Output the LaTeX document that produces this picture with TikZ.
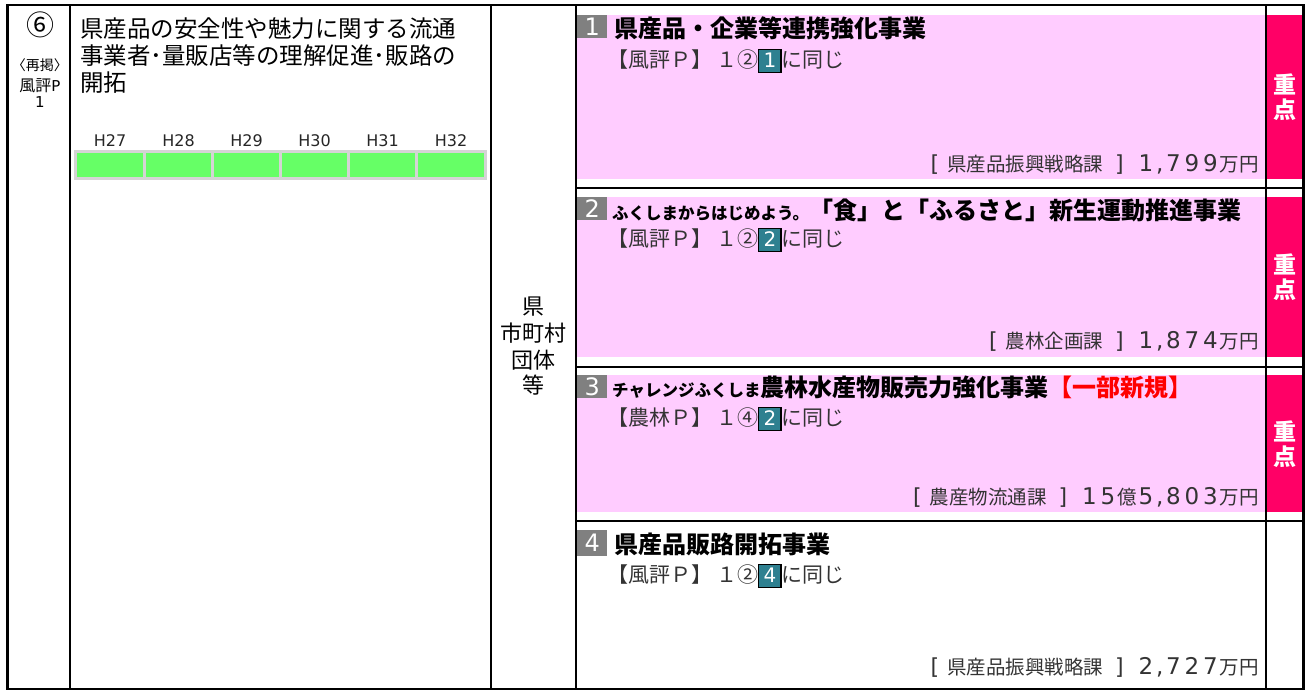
\documentclass[tikz,border=0pt]{standalone}
\usepackage{fontspec}
\setmainfont{Noto Sans CJK JP}
\newfontfamily\lat{DejaVu Sans}
\definecolor{pinkc}{HTML}{FFCCFF}
\definecolor{redc}{HTML}{FF0066}
\definecolor{grayc}{HTML}{808080}
\definecolor{tealc}{HTML}{2E8090}
\definecolor{greenc}{HTML}{66FF66}
\definecolor{barbg}{HTML}{D4D4D4}
\definecolor{subc}{HTML}{333333}
\definecolor{newred}{HTML}{FF0000}
\newcommand\refnum[1]{{\setlength\fboxsep{0pt}\setlength\fboxrule{1.2pt}\fcolorbox{black}{tealc}{\makebox[21pt]{\rule[-4pt]{0pt}{21.5pt}\color{white}\lat\fontsize{20}{20}\selectfont #1}}}}
\newcommand\smallpart[1]{{\fontsize{16.5}{16.5}\selectfont #1}}
\newcommand\D[1]{\makebox[18.5pt]{\lat\fontsize{23}{23}\selectfont #1}}
\newcommand\Cm{\makebox[9pt]{\lat\fontsize{23}{23}\selectfont ,}}
\newcommand\Lb{{\lat\fontsize{22}{22}\selectfont [}\hspace{8pt}}
\newcommand\Rb{\hspace{12pt}{\lat\fontsize{22}{22}\selectfont ]}\hspace{13pt}}
\begin{document}
\begin{tikzpicture}[x=1pt,y=-1pt,
  grid/.style={line width=1.3pt},
  outer/.style={line width=3pt},
  numbox/.style={fill=grayc, text=white, font=\lat\fontsize{24}{24}\selectfont, minimum width=30pt, minimum height=23pt, inner sep=0pt, anchor=north west},
  ttl/.style={anchor=west, inner sep=0pt, font=\fontsize{24}{24}\selectfont\bfseries},
  subl/.style={anchor=west, inner sep=0pt, text=subc, font=\fontsize{21}{21}\selectfont},
  botl/.style={anchor=east, inner sep=0pt, text=subc, font=\fontsize{19.5}{19.5}\selectfont},
  jud/.style={text=white, font=\fontsize{23}{23}\selectfont\bfseries, inner sep=0pt},
  hlab/.style={font=\lat\fontsize{16}{16}\selectfont, inner sep=0pt, text=black!85},
  ltitle/.style={anchor=base west, inner sep=0pt, font=\fontsize{23.5}{23.5}\selectfont},
  midt/.style={inner sep=0pt, font=\fontsize{22}{22}\selectfont},
  cell/.style={fill=greenc}
]
\useasboundingbox (0,0) rectangle (1307,691);
% fills
\fill[pinkc] (577,15) rectangle (1265.3,179);
\fill[pinkc] (577,197) rectangle (1265.3,357);
\fill[pinkc] (577,375) rectangle (1265.3,512);
\fill[redc] (1266.7,15) rectangle (1302,179);
\fill[redc] (1266.7,197) rectangle (1302,357);
\fill[redc] (1266.7,375) rectangle (1302,512);
% year bar
\fill[barbg] (74,150) rectangle (487,180);
\foreach \a/\b in {77/143,146/211,214/279,282/347,350/415,418/484}{
  \fill[cell] (\a,153) rectangle (\b,177);
}
% grid lines
\draw[grid] (7,5) -- (1305,5);
\draw[grid] (7,689) -- (1305,689);
\draw[outer] (7.5,4.4) -- (7.5,689.6);
\draw[outer] (1303.5,4.4) -- (1303.5,689.6);
\foreach \x in {70,491,576,1266}{
  \draw[grid] (\x,5) -- (\x,689);
}
\foreach \y in {188,367,521}{
  \draw[grid] (576,\y) -- (1303,\y);
}
% left column
\node[font=\fontsize{28}{28}\selectfont, inner sep=0pt] (c6) at (40,25) {⑥};
\node[font=\fontsize{14}{14}\selectfont, inner sep=0pt] (rk) at (40,65) {〈再掲〉};
\node[font=\fontsize{16}{16}\selectfont, inner sep=0pt] (fp) at (40,86) {風評{\lat\fontsize{15}{15}\selectfont P}};
\node[font=\lat\fontsize{15}{15}\selectfont, inner sep=0pt] (fn) at (40,102) {1};
% title
\node[ltitle] (L1) at (80,37) {県産品の安全性や魅力に関する流通};
\node[ltitle] (L2) at (80,64) {事業者･量販店等の理解促進･販路の};
\node[ltitle] (L3) at (80,91) {開拓};
% year labels
\node[hlab] (h27) at (110,141) {H27};
\node[hlab] (h28) at (178.5,141) {H28};
\node[hlab] (h29) at (246.5,141) {H29};
\node[hlab] (h30) at (314.5,141) {H30};
\node[hlab] (h31) at (382.5,141) {H31};
\node[hlab] (h32) at (451,141) {H32};
% middle column
\node[midt] (m1) at (533,307) {県};
\node[midt] (m2) at (533,333) {市町村};
\node[midt] (m3) at (533,360) {団体};
\node[midt] (m4) at (533,385) {等};
% section 1
\node[numbox] (n1) at (577,15) {1};
\node[ttl] (t1) at (614,28) {県産品・企業等連携強化事業};
\node[subl] (s1) at (607,61) {【風評Ｐ】\hspace{4pt}１②\refnum{1}に同じ};
\node[botl] (b1) at (1259,164) {\Lb 県産品振興戦略課\Rb\D1\Cm\D7\D9\D9万円};
\node[jud] (j1a) at (1285,84) {重};
\node[jud] (j1b) at (1285,110) {点};
% section 2
\node[numbox] (n2) at (577,197) {2};
\node[ttl] (t2) at (612,210) {\smallpart{ふくしまからはじめよう。}「食」と「ふるさと」新生運動推進事業};
\node[subl] (s2) at (607,240) {【風評Ｐ】\hspace{4pt}１②\refnum{2}に同じ};
\node[botl] (b2) at (1259,341) {\Lb 農林企画課\Rb\D1\Cm\D8\D7\D4万円};
\node[jud] (j2a) at (1285,264) {重};
\node[jud] (j2b) at (1285,290) {点};
% section 3
\node[numbox] (n3) at (577,375) {3};
\node[ttl] (t3) at (612,387) {\smallpart{チャレンジふくしま}農林水産物販売力強化事業\textcolor{newred}{【一部新規】}};
\node[subl] (s3) at (607,419) {【農林Ｐ】\hspace{4pt}１④\refnum{2}に同じ};
\node[botl] (b3) at (1259,497) {\Lb 農産物流通課\Rb\D1\D5億\D5\Cm\D8\D0\D3万円};
\node[jud] (j3a) at (1285,431) {重};
\node[jud] (j3b) at (1285,457) {点};
% section 4
\node[numbox, minimum height=26pt] (n4) at (577,530) {4};
\node[ttl] (t4) at (614,544) {県産品販路開拓事業};
\node[subl] (s4) at (607,576) {【風評Ｐ】\hspace{4pt}１②\refnum{4}に同じ};
\node[botl] (b4) at (1259,667) {\Lb 県産品振興戦略課\Rb\D2\Cm\D7\D2\D7万円};
\end{tikzpicture}
\end{document}
